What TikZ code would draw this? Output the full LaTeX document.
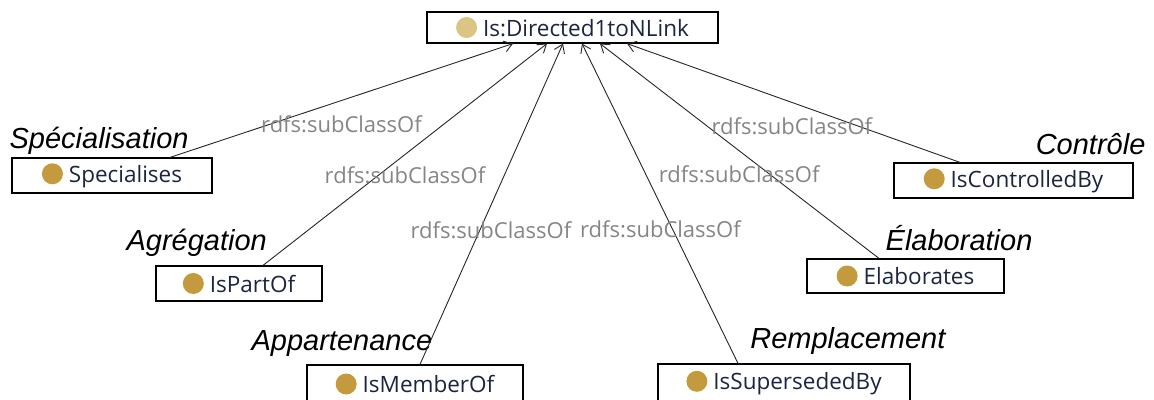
\documentclass[tikz,border=0pt]{standalone}
\usepackage{fontspec}
\usepackage{tikz}
\usetikzlibrary{arrows.meta, positioning}
\newfontfamily\uifont{Open Sans}
\newfontfamily\rolefont{Liberation Sans}
\definecolor{owlgold}{HTML}{C39A3E}
\definecolor{owlpale}{HTML}{DCC483}
\definecolor{owlink}{HTML}{1B2440}
\definecolor{relgray}{HTML}{858585}
\newcommand{\classdot}[1]{\raisebox{-2pt}{\tikz\fill[#1] (0,0) circle (10.5pt);}\hspace{6pt}}

\begin{document}
\begin{tikzpicture}[x=1pt, y=-1pt, >={Straight Barb[length=8pt,width=11pt]}]
  \tikzstyle{cls} = [draw, rectangle, line width=1.2pt, minimum height=35pt, inner sep=0pt, text=owlink, font=\uifont\fontsize{22.5}{26}\selectfont]
  \tikzstyle{role} = [inner sep=0pt, font=\rolefont\itshape\fontsize{29}{34}\selectfont]
  \tikzstyle{rel} = [inner sep=0pt, text=relgray, font=\uifont\fontsize{22}{26}\selectfont]
  \tikzstyle{sub} = [draw=black!85, line width=0.9pt, ->]
  \useasboundingbox (0,0) rectangle (1154,399);

  \node [cls, minimum width=291pt, minimum height=31pt] (link) at (572.5,27.5) {\classdot{owlpale}Is:Directed1toNLink};
  \node [cls, minimum width=200pt] (spec) at (112,175.5) {\classdot{owlgold}Specialises};
  \node [cls, minimum width=166pt] (part) at (239,283.5) {\classdot{owlgold}IsPartOf};
  \node [cls, minimum width=216pt, minimum height=38pt] (member) at (415,384) {\classdot{owlgold}IsMemberOf};
  \node [cls, minimum width=252pt, minimum height=38pt] (super) at (784,383) {\classdot{owlgold}IsSupersededBy};
  \node [cls, minimum width=197pt, minimum height=34pt] (elab) at (905.5,276) {\classdot{owlgold}Elaborates};
  \node [cls, minimum width=239pt] (ctrl) at (1013.5,180.5) {\classdot{owlgold}IsControlledBy};

  \node [role, above right=3pt and -2pt of spec.north west] (specrole) {Spécialisation};
  \node [role, above right=9pt and -29pt of part.north west] (partrole) {Agrégation};
  \node [role, above right=8pt and -55pt of member.north west] (memberrole) {Appartenance};
  \node [role, above left=9pt and -35pt of super.north east] (superrole) {Remplacement};
  \node [role, above left=7pt and -28pt of elab.north east] (elabrole) {Élaboration};
  \node [role, above left=7pt and -12pt of ctrl.north east] (ctrlrole) {Contrôle};

  \draw [sub] ([xshift=58pt]spec.north) -- node [rel, pos=.5, yshift=-24pt] {rdfs:subClassOf} ([xshift=-59.5pt]link.south);
  \draw [sub] ([xshift=24pt]part.north) -- node [rel, pos=.405, xshift=27pt] {rdfs:subClassOf} ([xshift=-25.5pt]link.south);
  \draw [sub] ([xshift=5pt]member.north) -- node [rel, pos=.419, xshift=11pt] {rdfs:subClassOf} ([xshift=-9.5pt]link.south);
  \draw [sub] ([xshift=-46pt]super.north) -- node [rel, pos=.42, xshift=-12pt] {rdfs:subClassOf} ([xshift=9.5pt]link.south);
  \draw [sub] ([xshift=-26.5pt]elab.north) -- node [rel, pos=.39, xshift=-31pt] {rdfs:subClassOf} ([xshift=27.5pt]link.south);
  \draw [sub] ([xshift=-53.5pt]ctrl.north) -- node [rel, pos=.505, yshift=-23.5pt] {rdfs:subClassOf} ([xshift=54.5pt]link.south);
\end{tikzpicture}
\end{document}
